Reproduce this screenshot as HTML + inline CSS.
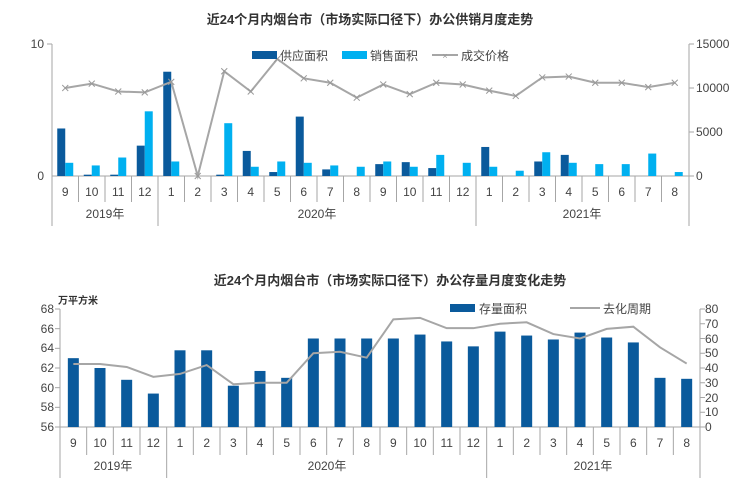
<!DOCTYPE html>
<html><head><meta charset="utf-8"><style>
body{margin:0;background:#fff;}
svg{display:block;font-family:"Liberation Sans","Noto Sans CJK SC",sans-serif;}
.t{font-size:13px;font-weight:bold;fill:#333;text-anchor:middle}
.l{font-size:12px;fill:#444}
.m{font-size:12px;fill:#444;text-anchor:middle}
.r{font-size:12px;fill:#444;text-anchor:end}
</style></head><body>
<svg id="s" width="740" height="497" viewBox="0 0 740 497">
<text x="370" y="24" class="t">近24个月内烟台市（市场实际口径下）办公供销月度走势</text>
<text x="390" y="285" class="t">近24个月内烟台市（市场实际口径下）办公存量月度变化走势</text>
<g id="top"></g><g id="bot"></g>
<!-- top axes labels -->
<text x="44" y="48" class="r">10</text><text x="44" y="180" class="r">0</text>
<text x="696" y="48" class="l">15000</text><text x="696" y="92" class="l">10000</text><text x="696" y="136" class="l">5000</text><text x="696" y="180" class="l">0</text>
<rect x="252" y="51" width="25" height="8" fill="#0a5a9c"/><text x="280" y="60" class="l">供应面积</text>
<rect x="342" y="51" width="25" height="8" fill="#00b0f0"/><text x="370" y="60" class="l">销售面积</text>
<line x1="432" y1="55" x2="458" y2="55" stroke="#a6a6a6" stroke-width="2"/><text x="445" y="59" font-size="9" fill="#999" text-anchor="middle">×</text><text x="461" y="60" class="l">成交价格</text>
<g class="m">
<text x="65.25" y="196">9</text><text x="91.75" y="196">10</text><text x="118.25" y="196">11</text><text x="144.75" y="196">12</text><text x="171.25" y="196">1</text><text x="197.75" y="196">2</text><text x="224.25" y="196">3</text><text x="250.75" y="196">4</text><text x="277.25" y="196">5</text><text x="303.75" y="196">6</text><text x="330.25" y="196">7</text><text x="356.75" y="196">8</text><text x="383.25" y="196">9</text><text x="409.75" y="196">10</text><text x="436.25" y="196">11</text><text x="462.75" y="196">12</text><text x="489.25" y="196">1</text><text x="515.75" y="196">2</text><text x="542.25" y="196">3</text><text x="568.75" y="196">4</text><text x="595.25" y="196">5</text><text x="621.75" y="196">6</text><text x="648.25" y="196">7</text><text x="674.75" y="196">8</text>
<text x="105" y="218">2019年</text><text x="317" y="218">2020年</text><text x="582" y="218">2021年</text>
</g>
<!-- bottom -->
<text x="58" y="304" font-size="10" font-weight="bold" fill="#333">万平方米</text>
<g class="r"><text x="54" y="313">68</text><text x="54" y="333">66</text><text x="54" y="352">64</text><text x="54" y="372">62</text><text x="54" y="392">60</text><text x="54" y="411">58</text><text x="54" y="431">56</text></g>
<g class="l"><text x="705" y="313">80</text><text x="705" y="328">70</text><text x="705" y="343">60</text><text x="705" y="357">50</text><text x="705" y="372">40</text><text x="705" y="387">30</text><text x="705" y="402">20</text><text x="705" y="416">10</text><text x="705" y="431">0</text></g>
<rect x="450" y="304" width="25" height="8" fill="#0a5a9c"/><text x="479" y="313" class="l">存量面积</text>
<line x1="570" y1="308" x2="600" y2="308" stroke="#a6a6a6" stroke-width="2"/><text x="603" y="313" class="l">去化周期</text>
<g class="m">
<text x="73.3" y="447">9</text><text x="100" y="447">10</text><text x="126.7" y="447">11</text><text x="153.3" y="447">12</text><text x="180" y="447">1</text><text x="206.7" y="447">2</text><text x="233.3" y="447">3</text><text x="260" y="447">4</text><text x="286.7" y="447">5</text><text x="313.3" y="447">6</text><text x="340" y="447">7</text><text x="366.7" y="447">8</text><text x="393.3" y="447">9</text><text x="420" y="447">10</text><text x="446.7" y="447">11</text><text x="473.3" y="447">12</text><text x="500" y="447">1</text><text x="526.7" y="447">2</text><text x="553.3" y="447">3</text><text x="580" y="447">4</text><text x="606.7" y="447">5</text><text x="633.3" y="447">6</text><text x="660" y="447">7</text><text x="686.7" y="447">8</text>
<text x="113" y="470">2019年</text><text x="327" y="470">2020年</text><text x="593" y="470">2021年</text>
</g>
</svg>
<script>
var NS="http://www.w3.org/2000/svg";
function el(g,n,a){var e=document.createElementNS(NS,n);for(var k in a)e.setAttribute(k,a[k]);g.appendChild(e);return e;}
var T=document.getElementById("top"),B=document.getElementById("bot");
// top
var sup=[3.6,0.1,0.1,2.3,7.9,0,0.1,1.9,0.3,4.5,0.5,0,0.9,1.05,0.6,0,2.2,0,1.1,1.6,0,0,0,0];
var sal=[1.0,0.8,1.4,4.9,1.1,0,4.0,0.7,1.1,1.0,0.8,0.7,1.1,0.7,1.6,1.0,0.7,0.4,1.8,1.0,0.9,0.9,1.7,0.3];
var pr=[10000,10500,9600,9500,10700,0,11900,9600,13300,11100,10600,8900,10400,9300,10600,10400,9700,9100,11200,11300,10600,10600,10100,10600];
var g="#a6a6a6";
el(T,"line",{x1:52,y1:44,x2:52,y2:226,stroke:g});el(T,"line",{x1:47,y1:44,x2:52,y2:44,stroke:g});
el(T,"line",{x1:52,y1:176,x2:689,y2:176,stroke:g});
el(T,"line",{x1:689,y1:44,x2:689,y2:226,stroke:g});
[44,88,132,176].forEach(function(y){el(T,"line",{x1:689,y1:y,x2:694,y2:y,stroke:g});});
var pts=[];
for(var i=0;i<24;i++){var c=52+26.5*(i+0.5);
 var x=52+26.5*i; el(T,"line",{x1:x,y1:176,x2:x,y2:(i==4||i==16)?226:202,stroke:g});
 if(sup[i]>0)el(T,"rect",{x:c-8,y:176-sup[i]*13.2,width:8,height:sup[i]*13.2,fill:"#0a5a9c"});
 if(sal[i]>0)el(T,"rect",{x:c,y:176-sal[i]*13.2,width:8,height:sal[i]*13.2,fill:"#00b0f0"});
 pts.push(c+","+(176-pr[i]/15000*132));}
el(T,"polyline",{points:pts.join(" "),fill:"none",stroke:g,"stroke-width":2});
pts.forEach(function(p){var a=p.split(",");var x=+a[0],y=+a[1];el(T,"path",{d:"M"+(x-3)+","+(y-3)+"L"+(x+3)+","+(y+3)+"M"+(x-3)+","+(y+3)+"L"+(x+3)+","+(y-3),stroke:"#999","stroke-width":1});});
// bottom
var st=[63.0,62.0,60.8,59.4,63.8,63.8,60.2,61.7,61.0,65.0,65.0,65.0,65.0,65.4,64.7,64.2,65.7,65.3,64.9,65.6,65.1,64.6,61.0,60.9];
var cy=[42.7,42.7,40.7,34,36,42,29,30,30,50,51,47,73,74,67,67,70,71,63,60,66.5,68,54,43];
el(B,"line",{x1:60,y1:309,x2:60,y2:478,stroke:g});el(B,"line",{x1:700,y1:309,x2:700,y2:478,stroke:g});
el(B,"line",{x1:60,y1:427,x2:700,y2:427,stroke:g});
for(var j=0;j<=6;j++){var y=309+j*118/6;el(B,"line",{x1:55,y1:y,x2:60,y2:y,stroke:g});}
for(var j=0;j<=8;j++){var y=309+j*118/8;el(B,"line",{x1:700,y1:y,x2:705,y2:y,stroke:g});}
var lp=[];
for(var i=0;i<24;i++){var c=60+26.667*(i+0.5),x=60+26.667*i;
 el(B,"line",{x1:x,y1:427,x2:x,y2:(i==4||i==16)?478:455,stroke:g});
 var h=(st[i]-56)*118/12;el(B,"rect",{x:c-5.5,y:427-h,width:11,height:h,fill:"#0a5a9c"});
 lp.push(c+","+(427-cy[i]*118/80));}
el(B,"polyline",{points:lp.join(" "),fill:"none",stroke:g,"stroke-width":2});
</script>
</body></html>
